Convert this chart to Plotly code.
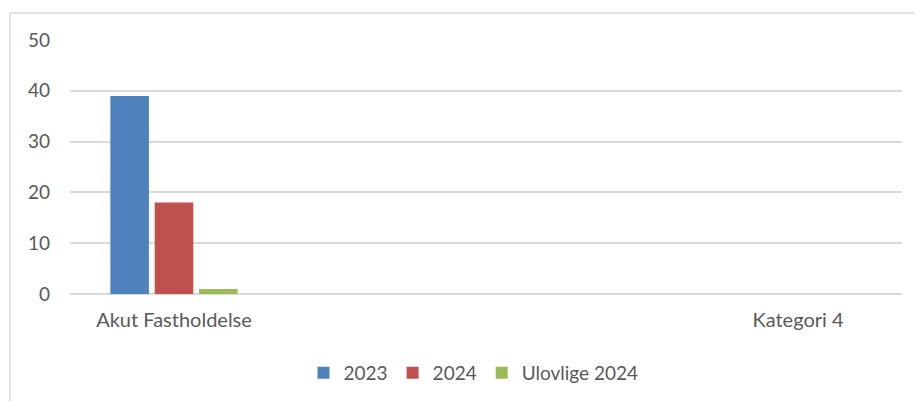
import plotly.graph_objects as go

categories = ["Akut Fastholdelse", " ", "  ", "Kategori 4"]
series_names = ["2023", "2024", "Ulovlige 2024"]
values_2023 = [39, None, None, None]
values_2024 = [18, None, None, None]
values_ulovlige_2024 = [1, None, None, None]
y_ticks = [0, 10, 20, 30, 40, 50]

colors = ["#4F81BD", "#C0504D", "#9BBB59"]
font_family = "Lato, 'Open Sans', sans-serif"
text_color = "#595959"
grid_color = "#D9D9D9"

fig = go.Figure()
for name, vals, col in zip(series_names, [values_2023, values_2024, values_ulovlige_2024], colors):
    fig.add_trace(go.Bar(x=categories, y=vals, name=name, marker=dict(color=col, line=dict(width=0))))

# page body has an 8px margin; figure coordinates are offset accordingly
W, H = 922, 401
L, R, T, B = 62, 28, 32, 115
pw = W - L - R
ph = H - T - B

def px_x(x):
    return (x - L) / pw

def px_y(y):
    return (H - B - y) / ph

fig.update_layout(
    width=W, height=H,
    margin=dict(l=L, r=R, t=T, b=B, autoexpand=False),
    paper_bgcolor="white", plot_bgcolor="white",
    barmode="group", bargap=0.36, bargroupgap=0.13,
    font=dict(family=font_family, size=19, color=text_color),
    showlegend=True,
    legend=dict(orientation="h", x=0.485, xanchor="center", yref="container", y=(H - 365) / H,
                yanchor="middle", font=dict(size=19, color=text_color), itemwidth=30,
                traceorder="normal"),
    xaxis=dict(type="category", categoryorder="array", categoryarray=categories, automargin=False,
               showgrid=False, showline=False, ticks="", tickfont=dict(size=20, color=text_color),
               ticklabelstandoff=12, fixedrange=True),
    yaxis=dict(range=[0, 50], tickvals=y_ticks, showgrid=True, gridcolor=grid_color, gridwidth=1.5,
               automargin=False, zeroline=True, zerolinecolor=grid_color, zerolinewidth=1.5,
               showline=False, ticks="", tickfont=dict(size=19, color=text_color),
               ticklabelstandoff=19, fixedrange=True),
    shapes=[
        dict(type="line", xref="paper", yref="paper", x0=px_x(2), x1=px_x(922), y0=px_y(5), y1=px_y(5),
             line=dict(color=grid_color, width=1.5)),
        dict(type="line", xref="paper", yref="paper", x0=px_x(2), x1=px_x(2), y0=px_y(5), y1=px_y(401),
             line=dict(color=grid_color, width=1.5)),
    ],
)

fig.write_html("out.html")
